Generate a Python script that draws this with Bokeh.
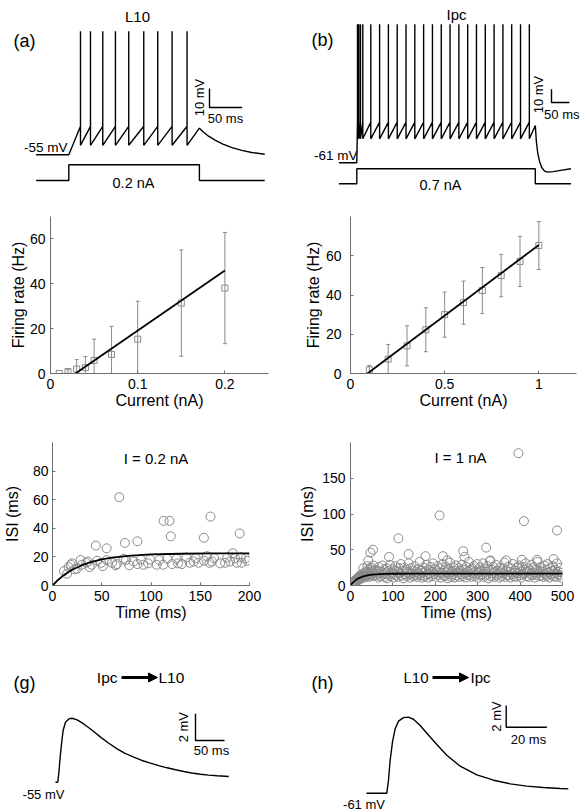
from math import pi
from bokeh.plotting import figure
from bokeh.models import (Range1d, Label, Whisker, TeeHead, Arrow, NormalHead,
                          ColumnDataSource, FixedTicker)
from bokeh.layouts import column, row
from bokeh.embed import file_html
from bokeh.resources import INLINE

FONT = "Liberation Sans"
GRAY = "#8a8a8a"
AXC = "#6f6f6f"

# ---------------- data ----------------
# (a) L10, 0.2 nA step
a_spike_times = [17.9, 33.2, 52.0, 71.4, 91.8, 114.8, 136.2, 158.2, 181.1]
a_rest, a_threshold, a_reset, a_peak = -55, -40, -50, 10
a_after_t = [200, 206, 214, 224, 236, 250, 265, 280, 300]
a_after_v = [-41, -43, -45.2, -47.3, -49.4, -51.2, -52.7, -53.8, -54.7]
a_step_t = [-50, 0, 0, 200, 200, 300]
a_step_i = [0, 0, 0.2, 0.2, 0, 0]

# (b) Ipc, 0.7 nA step
b_spike_times = [1.9, 5.6, 10.3, 16.8, 39.2, 63.9, 88.5, 113.2, 137.9, 162.5, 187.2,
                 211.9, 236.6, 261.2, 285.9, 310.6, 335.2, 359.9, 384.6, 409.3,
                 433.9, 458.6, 483.3]
b_rest, b_threshold, b_reset, b_peak = -61, -30.5, -43, 43
b_after_t = [500, 503, 507, 512, 518, 526, 535, 550, 575, 600]
b_after_v = [-33, -45, -54, -60, -64.5, -67.3, -68, -67.6, -66.5, -65.5]
b_step_t = [-50, 0, 0, 500, 500, 600]
b_step_i = [0, 0, 0.7, 0.7, 0, 0]

# (c) L10 f-I curve
c_current = [0.01, 0.02, 0.03, 0.04, 0.05, 0.07, 0.1, 0.15, 0.2]
c_rate = [0, 0.9, 2.0, 2.6, 5.8, 8.5, 15.3, 31.4, 38.1]
c_err = [0, 0.8, 4.2, 5.0, 9.5, 12.5, 16.9, 23.7, 24.8]
c_fit_x = [0.0286, 0.2]
c_fit_y = [0, 45.9]
c_xticks = [0, 0.1, 0.2]
c_xlabels = ["0", "0.1", "0.2"]
c_yticks = [0, 20, 40, 60]

# (d) Ipc f-I curve
d_current = [0.1, 0.2, 0.3, 0.4, 0.5, 0.6, 0.7, 0.8, 0.9, 1.0]
d_rate = [1.9, 7.3, 14.1, 22.3, 30.0, 36.1, 42.3, 49.9, 57.1, 65.2]
d_err = [2.2, 7.5, 10.2, 11.2, 11.5, 11.0, 11.7, 10.8, 12.8, 12.2]
d_fit_x = [0.09, 1.0]
d_fit_y = [0, 65.5]
d_xticks = [0, 0.5, 1]
d_xlabels = ["0", "0.5", "1"]
d_yticks = [0, 20, 40, 60]

# (e) ISI vs time, I = 0.2 nA
e_time = [11.7, 14.8, 16.4, 18.5, 19.8, 22.5, 24.8, 28.5, 29.9, 34.2, 35.9, 37.6, 39.9,
          45.3, 49.3, 51, 55, 60.4, 64.1, 65.4, 72.1, 74.5, 77.9, 82.2, 86.2, 89.6, 92.3,
          97, 99, 105.7, 108.4, 112.4, 116.4, 121.5, 125.8, 127.5, 131.5, 135.9, 139.3,
          143.3, 145.3, 148.3, 154, 156.7, 159.4, 161.7, 164.1, 170.1, 175.2, 177.5,
          180.2, 185.2, 187.2, 192, 196.3, 197.7, 191.3,
          67.8, 112.8, 118.8, 120.1, 160.4, 190, 153.7, 44, 55, 73.5, 86.2, 183]
e_isi = [10.1, 8.3, 12.9, 14.5, 15.5, 11.3, 11.8, 17.8, 14.5, 15.9, 16.8, 12.9, 14.5,
         17.3, 15.9, 13.6, 17.8, 15.9, 14.1, 15, 18.7, 17.8, 14.1, 16.8, 15, 18.2, 14.5,
         15.5, 18.2, 14.5, 17.8, 14.5, 18.7, 15, 18.7, 15.5, 15, 19.6, 15.9,
         16.8, 19.1, 15.9, 17.3, 20.5, 15.9, 16.8, 19.1, 15.5, 15.9, 19.6,
         16.8, 19.1, 15.9, 15.9, 19.1, 17.3, 19.6,
         61.8, 45.2, 45.2, 34.4, 48.2, 36.4, 33.4, 27.9, 26, 29.8, 30.9, 22.6]
e_fit_t = [0, 5, 10, 15, 20, 30, 40, 50, 60, 80, 100, 130, 160, 200]
e_fit_v = [0, 3.5, 6.4, 8.9, 11.0, 14.2, 16.6, 18.3, 19.5, 20.9, 21.7, 22.2, 22.4, 22.5]
e_xticks = [0, 50, 100, 150, 200]
e_yticks = [0, 20, 40, 60, 80]

# (f) ISI vs time, I = 1 nA
f_time = [5, 7, 9, 10, 12, 13, 15, 16, 18, 19, 20, 22, 23, 25, 26, 27, 29, 30, 31, 33, 34,
          35, 37, 38, 40, 41, 43, 44, 45, 47, 48, 50, 51, 53, 54, 56, 58, 59, 60,
          62, 64, 66, 67, 69, 71, 73, 75, 77, 79, 81, 83, 85, 86, 88, 91, 93, 95, 97, 99,
          101, 102, 104, 106, 108, 111, 113, 115, 117, 119, 121, 123, 125, 127, 129,
          131, 133, 135, 137, 139, 141, 143, 145, 147, 149, 151, 153, 155, 157, 159,
          161, 163, 165, 167, 169, 171, 173, 175, 177, 179, 181, 183, 185, 187, 189,
          191, 193, 195, 197, 199, 201, 203, 205, 207, 209, 211, 213, 215, 217, 219,
          221, 223, 225, 227, 229, 231, 233, 235, 237, 239, 241, 243, 245, 247, 249,
          251, 253, 255, 257, 259, 261, 263, 265, 267, 269, 271, 273, 275, 277, 279,
          281, 283, 285, 287, 289, 291, 293, 295, 297, 299, 301, 303, 305, 307, 309,
          311, 313, 315, 317, 319, 321, 323, 325, 327, 329, 331, 333, 335, 337, 339,
          341, 343, 345, 347, 349, 351, 353, 355, 357, 359, 361, 363, 365, 367, 369,
          371, 373, 375, 377, 379, 381, 383, 385, 387, 389, 391, 393, 395, 397, 399,
          401, 403, 405, 407, 409, 411, 413, 415, 417, 419, 421, 423, 425, 427, 429,
          431, 433, 435, 437, 439, 441, 443, 445, 447, 449, 451, 453, 455, 457, 459,
          461, 463, 465, 467, 469, 471, 473, 475, 477, 479, 481, 483, 485, 487, 489,
          491, 493, 495, 497, 499,
          396, 210, 409, 487, 113, 320, 53, 47, 266, 269, 137, 91, 177, 218, 404, 479,
          42, 440, 367, 330, 228]
f_isi = [3, 5, 6, 4, 8, 6, 9, 7, 10, 12, 8, 11, 14, 10, 13, 16, 12, 24, 15, 11, 18,
         14, 20, 13, 27, 16, 12, 22, 18, 14, 25, 16, 20, 13, 28, 17, 22, 15, 19,
         14, 21, 11, 26, 17, 13, 19, 28, 15, 22, 12, 17, 24, 10, 20, 15, 29, 13, 18, 23,
         11, 16, 21, 27, 14, 19, 12, 24, 17, 30, 14, 20, 10, 25, 16,
         22, 13, 18, 31, 15, 11, 24, 17, 20, 13, 27, 15, 19, 12, 23,
         16, 33, 14, 21, 11, 18, 25, 13, 20, 29, 15, 11, 22, 17, 26,
         13, 19, 31, 16, 23, 12, 20, 27, 15, 18, 24, 11, 17, 30, 14,
         21, 13, 26, 18, 10, 23, 16, 32, 12, 19, 15, 25, 11, 20, 28,
         14, 18, 24, 12, 21, 16, 29, 13, 22, 17, 11, 26, 15, 19, 33,
         14, 21, 12, 24, 17, 27, 13, 20, 16, 30, 11, 18, 25, 14, 21,
         16, 31, 12, 23, 19, 15, 27, 10, 20, 34, 13, 22, 17, 26, 12,
         19, 29, 14, 21, 16, 11, 25, 18, 13, 23, 17, 32, 12, 20, 15,
         26, 14, 19, 11, 24, 16, 30, 13, 21, 18, 12, 25, 17, 28, 14,
         20, 11, 26, 15, 22, 17, 31, 13, 19, 24, 12, 21, 16, 29, 14,
         18, 25, 11, 22, 15, 33, 17, 13, 20, 26, 14, 19, 12, 28, 16,
         22, 13, 30, 18, 11, 24, 15, 20, 27, 13, 17, 22, 12, 31, 16,
         19, 14, 25, 11, 18,
         185, 98, 90, 77, 66, 53, 50, 46, 48, 40, 44, 40, 41, 41, 36, 37,
         35, 36, 35, 35, 35]
f_fit_t = [0, 5, 10, 15, 20, 30, 40, 50, 60, 80, 100, 150, 500]
f_fit_v = [0, 3.6, 6.5, 8.7, 10.4, 12.8, 14.3, 15.1, 15.7, 16.2, 16.4, 16.5, 16.5]
f_xticks = [0, 100, 200, 300, 400, 500]
f_yticks = [0, 50, 100, 150]

# (g) Ipc -> L10 PSP, (h) L10 -> Ipc PSP (depolarisation from rest)
g_rest = -55
g_t = [-4, 0, 2, 4.6, 7, 9.2, 13.2, 19, 24.7, 33.3, 42, 50.6, 62, 73.6, 88, 102.3, 116,
       131, 145, 159.8, 174, 188.5, 203, 217.2, 231, 246, 260, 274.7, 294.8]
g_dv = [0, 0, 0.8, 2.13, 3.1, 3.88, 4.5, 4.75, 4.8, 4.68, 4.45, 4.18, 3.8, 3.38, 2.92,
        2.5, 2.17, 1.88, 1.63, 1.43, 1.24, 1.08, 0.93, 0.8, 0.69, 0.6, 0.53, 0.48, 0.43]
h_rest = -61
h_t = [-10, 0, 0.82, 1.64, 2.79, 4.1, 5.74, 8.2, 10.66, 13.1, 16.4, 19.7, 24.6, 29.5,
       36.1, 44.3, 52.5, 60.7, 68.9, 77, 85.2, 89.3]
h_dv = [0, 0, 1.17, 3.02, 4.71, 5.94, 6.65, 6.98, 7.02, 6.83, 6.25, 5.54, 4.49, 3.51,
        2.49, 1.69, 1.2, 0.86, 0.65, 0.52, 0.43, 0.4]


# ---------------- helpers ----------------
class Frame:
    def __init__(self, L, T, R, B, x0, x1, y0, y1):
        self.L, self.T, self.R, self.B = L, T, R, B
        self.x0, self.x1, self.y0, self.y1 = x0, x1, y0, y1

    def x(self, px):
        return self.x0 + (px - self.L) * (self.x1 - self.x0) / (self.R - self.L)

    def y(self, py):
        return self.y1 - (py - self.T) * (self.y1 - self.y0) / (self.B - self.T)


def mapped_frame(L, T, R, B, px0, v0, ppx, py0, w0, ppy):
    return Frame(L, T, R, B,
                 v0 + (L - px0) / ppx, v0 + (R - px0) / ppx,
                 w0 - (B - py0) / ppy, w0 + (py0 - T) / ppy)


def bare_fig(w, h, fr):
    p = figure(width=w, height=h, output_backend="svg", toolbar_location=None,
               x_axis_type=None, y_axis_type=None,
               x_range=Range1d(fr.x0, fr.x1), y_range=Range1d(fr.y0, fr.y1),
               min_border_left=0, min_border_right=0, min_border_top=0,
               min_border_bottom=0)
    p.outline_line_color = None
    p.grid.visible = False
    p.background_fill_color = "white"
    p.border_fill_color = "white"
    return p


def lab(p, fr, px, py, text, size="14px", align="left", baseline="middle",
        angle=0.0, yfr=None, y_range_name="default"):
    f2 = yfr if yfr is not None else fr
    p.add_layout(Label(x=fr.x(px), y=f2.y(py), text=text, text_font=FONT,
                       text_font_size=size, text_align=align,
                       text_baseline=baseline, angle=angle, text_color="black",
                       y_range_name=y_range_name))


def spike_path(rest, spikes, thr, reset, peak, after_t, after_v):
    t = [-50, 0]
    v = [rest, rest]
    for s in spikes:
        t += [s, s, s]
        v += [thr, peak, reset]
    return t + after_t, v + after_v


def axes_fig(w, h, fr, borders, xticks, xlabels, yticks, xlabel, ylabel,
             yl_stand=2, ytick_stand=5):
    lft, rgt, top, bot = borders
    p = figure(width=w, height=h, output_backend="svg", toolbar_location=None,
               x_range=Range1d(fr.x0, fr.x1), y_range=Range1d(fr.y0, fr.y1),
               min_border_left=lft, min_border_right=rgt, min_border_top=top,
               min_border_bottom=bot)
    p.outline_line_color = None
    p.grid.visible = False
    p.xaxis.ticker = FixedTicker(ticks=xticks)
    if xlabels is not None:
        p.xaxis.major_label_overrides = dict(zip(xticks, xlabels))
    p.yaxis.ticker = FixedTicker(ticks=yticks)
    p.xaxis.axis_label = xlabel
    p.yaxis.axis_label = ylabel
    for ax in p.axis:
        ax.axis_line_color = AXC
        ax.axis_line_width = 1
        ax.major_tick_line_color = AXC
        ax.major_tick_in = 3
        ax.major_tick_out = 0
        ax.minor_tick_line_color = None
        ax.major_label_text_font = FONT
        ax.major_label_text_font_size = "14px"
        ax.major_label_text_color = "black"
        ax.axis_label_text_font = FONT
        ax.axis_label_text_font_size = "16px"
        ax.axis_label_text_font_style = "normal"
        ax.axis_label_text_color = "black"
    p.xaxis.major_label_standoff = 5
    p.xaxis.axis_label_standoff = 0
    p.yaxis.major_label_standoff = ytick_stand
    p.yaxis.axis_label_standoff = yl_stand
    return p


def trace_style(p, t, v, **kw):
    p.line(t, v, line_color="black", line_width=1.4, **kw)


def scale_bar(p, fr, px, py, dx, dy):
    x0, y0 = fr.x(px), fr.y(py)
    p.line([x0, x0, x0 + dx], [y0 + dy, y0, y0], line_color="black", line_width=1.4)


W = 293
H1, H2, H3, H4 = 193, 225, 212, 182
Y2, Y3, Y4 = H1, H1 + H2, H1 + H2 + H3

# ---------------- (a) ----------------
fa = mapped_frame(0, 0, W, H1, 68.3, 0, 0.653, 154.3, a_rest, 1.9)
fa_i = mapped_frame(0, 0, W, H1, 68.3, 0, 0.653, 180, 0, 78.5)
pa = bare_fig(W, H1, fa)
pa.extra_y_ranges = {"I": Range1d(fa_i.y0, fa_i.y1)}
ta, va = spike_path(a_rest, a_spike_times, a_threshold, a_reset, a_peak, a_after_t, a_after_v)
trace_style(pa, ta, va)
trace_style(pa, a_step_t, a_step_i, y_range_name="I")
scale_bar(pa, fa, 209, 107, 50, 10)
lab(pa, fa, 137, 15.5, "L10", size="15px", align="center")
lab(pa, fa, 13, 40, "(a)", size="18px")
lab(pa, fa, 206, 97, "10 mV", size="13px", align="center", baseline="bottom", angle=pi / 2)
lab(pa, fa, 225, 110, "50 ms", size="13px", align="center", baseline="top")
lab(pa, fa, 67, 147, "-55 mV", size="13.5px", align="right")
lab(pa, fa, 133, 182, "0.2 nA", size="14.5px", align="center", yfr=fa_i, y_range_name="I")

# ---------------- (b) ----------------
fb = mapped_frame(W, 0, 2 * W, H1, 356.3, 0, 0.357, 162.3, b_rest, 1.333)
fb_i = mapped_frame(W, 0, 2 * W, H1, 356.3, 0, 0.357, 183.3, 0, 21.43)
pb = bare_fig(W, H1, fb)
pb.extra_y_ranges = {"I": Range1d(fb_i.y0, fb_i.y1)}
tb, vb = spike_path(b_rest, b_spike_times, b_threshold, b_reset, b_peak, b_after_t, b_after_v)
trace_style(pb, tb, vb)
trace_style(pb, b_step_t, b_step_i, y_range_name="I")
scale_bar(pb, fb, 551, 102, 50, 10)
lab(pb, fb, 456, 14, "Ipc", size="15px", align="center")
lab(pb, fb, 311, 39, "(b)", size="18px")
lab(pb, fb, 545.7, 94, "10 mV", size="13px", align="center", baseline="bottom", angle=pi / 2)
lab(pb, fb, 561.3, 106, "50 ms", size="13px", align="center", baseline="top")
lab(pb, fb, 357, 155, "-61 mV", size="13.5px", align="right")
lab(pb, fb, 440, 184, "0.7 nA", size="14.5px", align="center", yfr=fb_i, y_range_name="I")

# ---------------- (c) ----------------
fc = Frame(50, 213, 268, 375, 0, 0.25, 0, 70)
pc = axes_fig(W, H2, fc, (50, W - 268, 213 - Y2, Y3 - 375), c_xticks, c_xlabels, c_yticks,
              "Current (nA)", "Firing rate (Hz)", yl_stand=0, ytick_stand=5)
src_c = ColumnDataSource(dict(x=c_current, y=c_rate,
                              upper=[r + e for r, e in zip(c_rate, c_err)],
                              lower=[max(r - e, 0) for r, e in zip(c_rate, c_err)]))
pc.add_layout(Whisker(source=src_c, base="x", upper="upper", lower="lower",
                      line_color=GRAY, line_width=1,
                      upper_head=TeeHead(size=4, line_color=GRAY, line_width=1),
                      lower_head=TeeHead(size=4, line_color=GRAY, line_width=1)))
pc.scatter("x", "y", source=src_c, marker="square", size=6, fill_color=None,
           line_color=GRAY, line_width=1)
pc.line(c_fit_x, c_fit_y, line_color="black", line_width=1.8)
lab(pc, fc, 13, 207, "(c)", size="18px")

# ---------------- (d) ----------------
fd = Frame(350, 216, 576, 373, 0, 1.2, 0, 80)
pd_ = axes_fig(W, H2, fd, (350 - W, 2 * W - 576, 216 - Y2, Y3 - 373), d_xticks, d_xlabels,
               d_yticks, "Current (nA)", "Firing rate (Hz)", yl_stand=1, ytick_stand=9)
src_d = ColumnDataSource(dict(x=d_current, y=d_rate,
                              upper=[r + e for r, e in zip(d_rate, d_err)],
                              lower=[max(r - e, 0) for r, e in zip(d_rate, d_err)]))
pd_.add_layout(Whisker(source=src_d, base="x", upper="upper", lower="lower",
                       line_color=GRAY, line_width=1,
                       upper_head=TeeHead(size=4, line_color=GRAY, line_width=1),
                       lower_head=TeeHead(size=4, line_color=GRAY, line_width=1)))
pd_.scatter("x", "y", source=src_d, marker="square", size=6, fill_color=None,
            line_color=GRAY, line_width=1)
pd_.line(d_fit_x, d_fit_y, line_color="black", line_width=1.8)
lab(pd_, fd, 310, 211.5, "(d)", size="18px")

# ---------------- (e) ----------------
fe = Frame(51, 442, 249, 587, 0, 200, 0, 100)
pe = axes_fig(W, H3, fe, (51, W - 249, 442 - Y3, Y4 - 587), e_xticks, None, e_yticks,
              "Time (ms)", "ISI (ms)", yl_stand=9, ytick_stand=4)
pe.scatter(e_time, e_isi, marker="circle", size=9, fill_color=None,
           line_color=GRAY, line_width=1)
pe.line(e_fit_t, e_fit_v, line_color="black", line_width=1.8)
lab(pe, fe, 13, 445.5, "(e)", size="18px")
lab(pe, fe, 155, 458, "I = 0.2 nA", size="15px", align="center")

# ---------------- (f) ----------------
ff = Frame(350, 440, 562, 585, 0, 500, 0, 200)
pf = axes_fig(W, H3, ff, (350 - W, 2 * W - 562, 440 - Y3, Y4 - 585), f_xticks, None, f_yticks,
              "Time (ms)", "ISI (ms)", yl_stand=3, ytick_stand=5)
pf.scatter(f_time, f_isi, marker="circle", size=9, fill_color=None,
           line_color=GRAY, line_width=1)
pf.line(f_fit_t, f_fit_v, line_color="black", line_width=1.8)
lab(pf, ff, 310, 445.5, "(f)", size="18px")
lab(pf, ff, 460, 455, "I = 1 nA", size="15px", align="center")

# ---------------- (g) ----------------
fg = mapped_frame(0, Y4, W, Y4 + H4, 57.3, 0, 0.58, 781.7, g_rest, 13.33)
pg = bare_fig(W, H4, fg)
trace_style(pg, g_t, [g_rest + d for d in g_dv])
scale_bar(pg, fg, 195, 740, 50, 2)
lab(pg, fg, 13, 682, "(g)", size="18px")
lab(pg, fg, 117, 677, "Ipc", size="15.5px", align="right")
lab(pg, fg, 158, 677, "L10", size="15.5px")
pg.add_layout(Arrow(x_start=fg.x(121), y_start=fg.y(677), x_end=fg.x(157), y_end=fg.y(677),
                    line_width=3, line_color="black",
                    end=NormalHead(size=9, fill_color="black", line_color="black", line_width=1)))
lab(pg, fg, 190.7, 726.7, "2 mV", size="13px", align="center", baseline="bottom", angle=pi / 2)
lab(pg, fg, 211, 742, "50 ms", size="13px", align="center", baseline="top")
lab(pg, fg, 43, 786, "-55 mV", size="13px", align="center", baseline="top")

# ---------------- (h) ----------------
fh = mapped_frame(W, Y4, 2 * W, Y4 + H4, 386.3, 0, 2.033, 792.7, h_rest, 10.83)
ph = bare_fig(W, H4, fh)
trace_style(ph, h_t, [h_rest + d for d in h_dv])
scale_bar(ph, fh, 505.7, 726.7, 20, 2)
lab(ph, fh, 311, 682, "(h)", size="18px")
lab(ph, fh, 428, 677, "L10", size="15px", align="right")
lab(ph, fh, 470, 677, "Ipc", size="15px")
ph.add_layout(Arrow(x_start=fh.x(432), y_start=fh.y(677), x_end=fh.x(468), y_end=fh.y(677),
                    line_width=3, line_color="black",
                    end=NormalHead(size=9, fill_color="black", line_color="black", line_width=1)))
lab(ph, fh, 503, 716, "2 mV", size="13px", align="center", baseline="bottom", angle=pi / 2)
lab(ph, fh, 528, 731, "20 ms", size="13px", align="center", baseline="top")
lab(ph, fh, 363.5, 796, "-61 mV", size="13px", align="center", baseline="top")

layout = column(row(pa, pb), row(pc, pd_), row(pe, pf), row(pg, ph))

with open("out.html", "w") as fh_out:
    fh_out.write(file_html(layout, INLINE))
